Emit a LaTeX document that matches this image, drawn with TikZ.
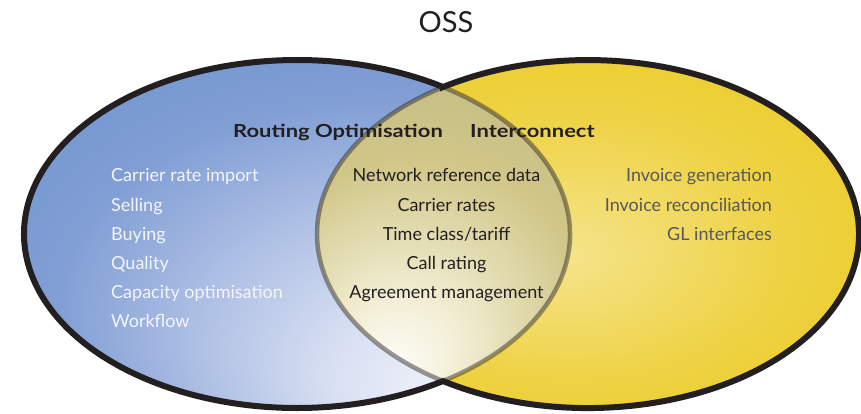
\documentclass[tikz,border=0pt]{standalone}
\usepackage{fontspec}
\setmainfont{Lato}
\newfontfamily\headfont[FakeStretch=1.22]{Lato}
\usepackage{tikz}
\usetikzlibrary{positioning}
\usepackage{xcolor}

\definecolor{outline}{RGB}{35, 31, 32}
\definecolor{blueedge}{RGB}{90, 135, 200}
\definecolor{bluemid}{RGB}{130, 159, 213}
\definecolor{blueglow}{RGB}{218, 225, 243}
\definecolor{yellowedge}{RGB}{232, 197, 4}
\definecolor{yellowmid}{RGB}{238, 210, 66}
\definecolor{yellowglow}{RGB}{245, 228, 140}
\definecolor{lensedge}{RGB}{180, 176, 132}
\definecolor{lensmid}{RGB}{208, 198, 135}
\definecolor{lensglow}{RGB}{242, 238, 212}
\definecolor{greytext}{RGB}{88, 88, 90}
\definecolor{softwhite}{RGB}{242, 245, 251}

\pgfdeclareradialshading{bluefill}{\pgfpoint{20.7bp}{-27.6bp}}{%
  color(0bp)=(white); color(12bp)=(blueglow); color(30bp)=(bluemid); color(50bp)=(blueedge)}
\pgfdeclareradialshading{yellowfill}{\pgfpoint{-2.4bp}{-3.2bp}}{%
  color(0bp)=(yellowglow); color(20bp)=(yellowmid); color(50bp)=(yellowedge)}
\pgfdeclareradialshading{lensfill}{\pgfpoint{-8bp}{-24bp}}{%
  color(0bp)=(white!95!lensglow); color(9bp)=(lensglow); color(25bp)=(lensmid); color(50bp)=(lensedge)}

\begin{document}
\begin{tikzpicture}[x=1pt, y=1pt,
    item/.style={font=\fontsize{18}{21}\selectfont, inner sep=0pt},
    heading/.style={font=\headfont\bfseries\fontsize{18}{21}\selectfont, text=outline, inner sep=0pt}]
  \useasboundingbox (0,0) rectangle (861,414);

  % Two sets
  \shade[shading=bluefill] (297,180) ellipse [x radius=273, y radius=174];
  \shade[shading=yellowfill] (588,180) ellipse [x radius=271, y radius=174];

  % Overlap of the two sets
  \shade[shading=lensfill] (443,327)
    arc[start angle=57.67, end angle=-57.67, x radius=273, y radius=174]
    arc[start angle=237.65, end angle=122.35, x radius=271, y radius=174] -- cycle;
  \draw[outline, opacity=0.45, line width=4.5pt] (443,327)
    arc[start angle=57.67, end angle=-57.67, x radius=273, y radius=174]
    arc[start angle=237.65, end angle=122.35, x radius=271, y radius=174] -- cycle;

  % Outer edge
  \draw[outline, line width=6pt] (443,327)
    arc[start angle=57.67, end angle=302.33, x radius=273, y radius=174]
    arc[start angle=237.65, end angle=482.35, x radius=271, y radius=174] -- cycle;

  % Labels
  \node[font=\fontsize{29}{34}\selectfont, text=outline, inner sep=0pt, anchor=base] (oss) at (446,381) {OSS};
  \node[heading, anchor=base east] (routing) at (443,276) {Routing Optimisation};
  \node[heading, anchor=base west] (interconnect) at (470,276) {Interconnect};

  \foreach \txt [count=\i] in {Carrier rate import, Selling, Buying, Quality, Capacity optimisation, Workflow}
    \node[item, text=softwhite, anchor=base west] (route\i) at (111, 261.1-29.1*\i) {\txt};
  \foreach \txt [count=\i] in {Network reference data, Carrier rates, Time class/tariff, Call rating, Agreement management}
    \node[item, text=outline, anchor=base] (shared\i) at (446.5, 261.1-29.1*\i) {\txt};
  \foreach \txt [count=\i] in {Invoice generation, Invoice reconciliation, GL interfaces}
    \node[item, text=greytext, anchor=base east] (inter\i) at (772, 261.1-29.1*\i) {\txt};
\end{tikzpicture}
\end{document}
